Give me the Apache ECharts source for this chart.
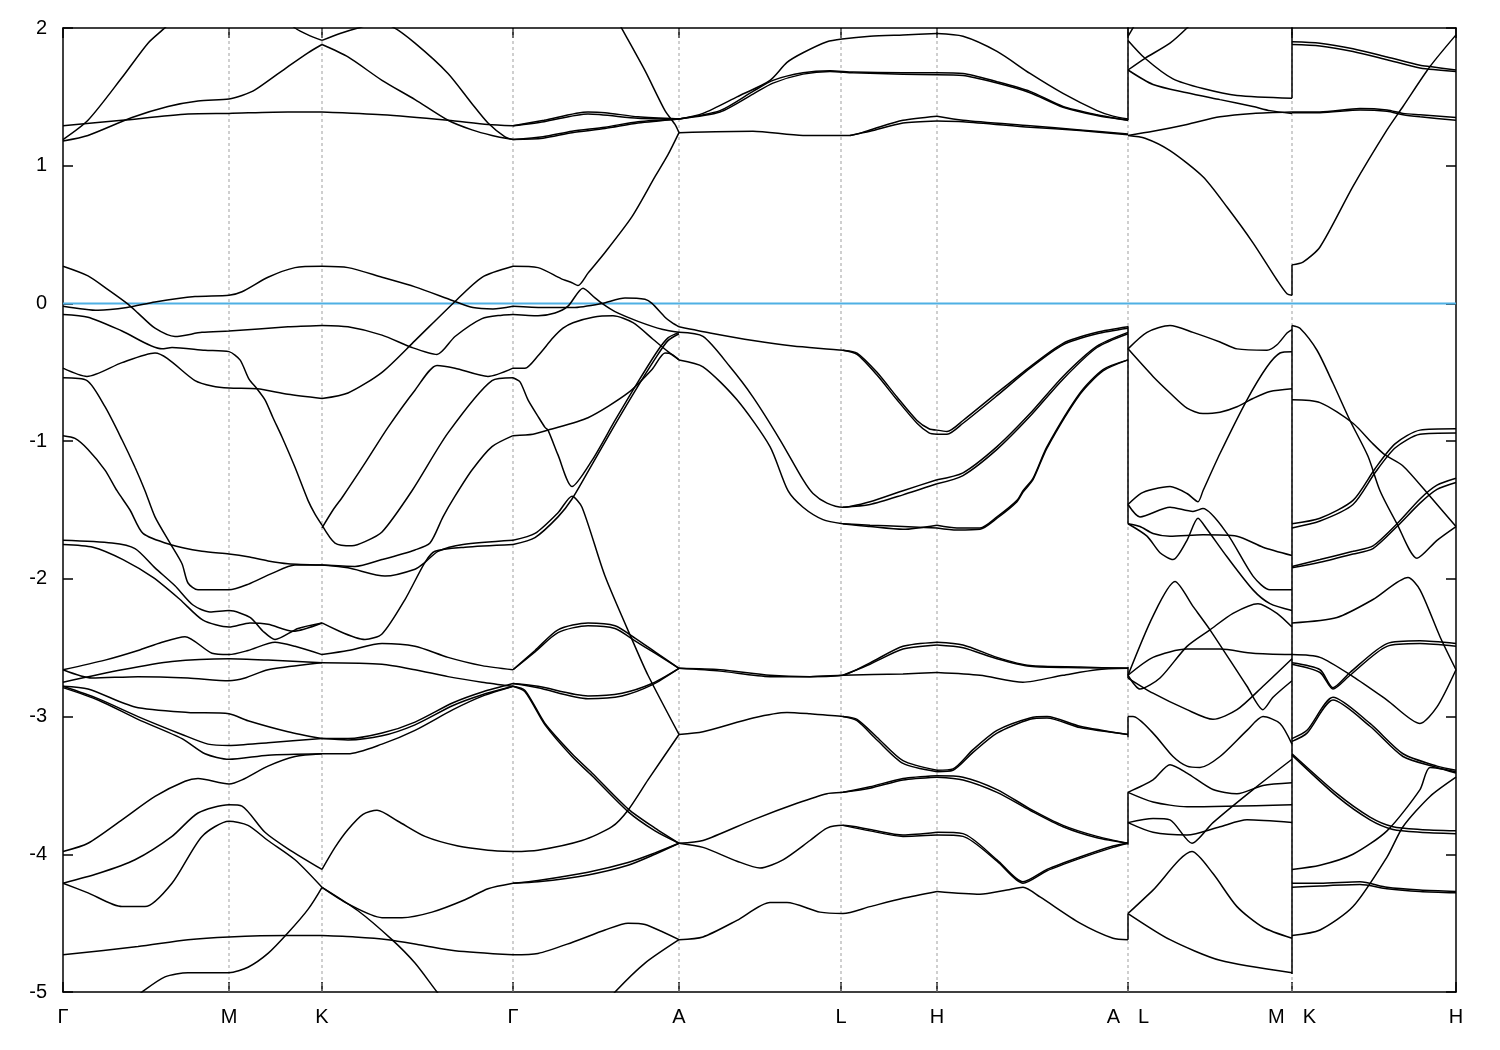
<!DOCTYPE html>
<html><head><meta charset="utf-8">
<script src="https://cdn.jsdelivr.net/npm/echarts@6/dist/echarts.min.js"></script>
<style>html,body{margin:0;padding:0;background:#fff}#chart{width:1500px;height:1050px}</style>
</head><body><div id="chart"></div>
<script>
// k-path positions of the high-symmetry points (path distance units) and their labels
const kPoints = [0, 166, 259, 450, 616, 778, 874, 1065, 1229, 1393];
const kNames  = ['Γ', 'M', 'K', 'Γ', 'A', 'L', 'H', 'A|L', 'M|K', 'H'];
const energyMin = -5, energyMax = 2;

// Band polylines [k, E(eV)], per path segment
const bandsGMK = [
 [[0,1.19],[25,1.33],[59,1.64],[85,1.89],[103,2.01],[106,2.05]],
 [[0,1.29],[59,1.33],[125,1.375],[166,1.38],[225,1.39],[259,1.39]],
 [[0,1.18],[25,1.22],[69,1.35],[105,1.43],[135,1.47],[166,1.485],[179,1.51],[192,1.55],[225,1.72],[245,1.82],[259,1.88]],
 [[225,2.05],[232,2.0],[245,1.95],[259,1.91]],
 [[0,0.27],[25,0.2],[45,0.1],[64,0.0],[75,-0.07],[92,-0.18],[112,-0.24],[139,-0.21],[166,-0.2],[225,-0.17],[259,-0.16]],
 [[0,-0.02],[35,-0.05],[64,-0.03],[92,0.01],[132,0.05],[166,0.06],[179,0.085],[205,0.19],[232,0.26],[259,0.27]],
 [[0,-0.08],[25,-0.1],[59,-0.2],[99,-0.33],[109,-0.32],[142,-0.34],[166,-0.35],[177,-0.41],[186,-0.55],[194,-0.62],[202,-0.7],[210,-0.83],[219,-0.97],[232,-1.19],[245,-1.43],[252,-1.53],[259,-1.61]],
 [[0,-0.47],[24,-0.53],[59,-0.43],[92,-0.36],[132,-0.56],[149,-0.6],[166,-0.615],[194,-0.62],[225,-0.66],[259,-0.69]],
 [[0,-0.54],[24,-0.56],[42,-0.75],[59,-0.99],[72,-1.19],[82,-1.36],[92,-1.55],[107,-1.74],[119,-1.89],[125,-2.03],[135,-2.08],[166,-2.08],[185,-2.04],[209,-1.96],[232,-1.9],[259,-1.9]],
 [[0,-0.96],[12,-0.98],[25,-1.06],[42,-1.21],[54,-1.36],[67,-1.5],[80,-1.67],[107,-1.75],[139,-1.8],[166,-1.82],[185,-1.84],[205,-1.87],[225,-1.89],[259,-1.9]],
 [[0,-1.72],[49,-1.74],[72,-1.78],[92,-1.92],[112,-2.05],[130,-2.19],[147,-2.24],[166,-2.23],[187,-2.28],[200,-2.38],[212,-2.44],[235,-2.36],[259,-2.32]],
 [[0,-1.75],[30,-1.77],[60,-1.86],[90,-1.99],[117,-2.15],[140,-2.3],[166,-2.35],[187,-2.32],[205,-2.33],[230,-2.38],[259,-2.32]],
 [[0,-2.66],[42,-2.59],[75,-2.52],[99,-2.46],[122,-2.42],[149,-2.54],[166,-2.55],[185,-2.52],[212,-2.46],[232,-2.49],[259,-2.55]],
 [[0,-2.75],[59,-2.66],[109,-2.6],[166,-2.58],[205,-2.59],[259,-2.61]],
 [[0,-2.66],[29,-2.72],[75,-2.71],[125,-2.72],[166,-2.74],[182,-2.72],[205,-2.66],[259,-2.61]],
 [[0,-2.78],[25,-2.8],[72,-2.93],[125,-2.97],[166,-2.98],[185,-3.03],[225,-3.11],[259,-3.16]],
 [[0,-2.78],[35,-2.87],[75,-3.0],[119,-3.13],[145,-3.2],[166,-3.21],[205,-3.19],[259,-3.16]],
 [[0,-2.79],[35,-2.88],[75,-3.02],[119,-3.16],[142,-3.27],[166,-3.31],[205,-3.28],[259,-3.27]],
 [[0,-3.98],[25,-3.92],[59,-3.75],[92,-3.58],[122,-3.47],[135,-3.45],[166,-3.49],[179,-3.46],[205,-3.36],[232,-3.29],[259,-3.27]],
 [[0,-4.21],[35,-4.14],[72,-4.04],[109,-3.87],[135,-3.7],[166,-3.64],[179,-3.65],[202,-3.84],[225,-3.96],[259,-4.11]],
 [[0,-4.21],[25,-4.28],[59,-4.38],[82,-4.38],[109,-4.21],[139,-3.87],[166,-3.76],[185,-3.79],[205,-3.9],[232,-4.04],[259,-4.24]],
 [[0,-4.73],[75,-4.67],[125,-4.62],[166,-4.6],[225,-4.59],[259,-4.59]],
 [[70,-5.06],[79,-5.0],[102,-4.89],[125,-4.86],[166,-4.86],[185,-4.82],[205,-4.72],[225,-4.57],[245,-4.4],[259,-4.24]]
];

const bandsKG = [
 [[259,1.39],[319,1.37],[385,1.33],[425,1.3],[450,1.29]],
 [[259,1.88],[285,1.79],[319,1.62],[352,1.48],[385,1.33],[409,1.26],[429,1.22],[450,1.19]],
 [[259,1.91],[277,1.96],[295,2.0],[312,2.03],[329,2.01],[352,1.89],[385,1.67],[409,1.45],[425,1.31],[442,1.21],[450,1.19]],
 [[259,-0.16],[285,-0.17],[319,-0.23],[349,-0.32],[374,-0.37],[392,-0.24],[419,-0.11],[439,-0.085],[450,-0.08]],
 [[259,0.27],[285,0.26],[319,0.19],[352,0.12],[390,0.02],[410,-0.03],[430,-0.04],[450,-0.02]],
 [[259,-0.69],[285,-0.65],[319,-0.5],[352,-0.27],[390,0.0],[419,0.19],[450,0.27]],
 [[259,-1.63],[270,-1.5],[280,-1.4],[302,-1.16],[325,-0.9],[352,-0.63],[374,-0.45],[392,-0.47],[425,-0.53],[450,-0.47]],
 [[259,-1.61],[272,-1.74],[289,-1.76],[302,-1.73],[319,-1.66],[349,-1.36],[385,-0.94],[429,-0.56],[450,-0.54]],
 [[259,-1.9],[292,-1.91],[319,-1.86],[352,-1.79],[367,-1.74],[380,-1.55],[392,-1.4],[409,-1.21],[429,-1.04],[450,-0.96]],
 [[259,-1.9],[285,-1.92],[322,-1.98],[352,-1.93],[362,-1.88],[375,-1.8],[400,-1.75],[450,-1.72]],
 [[259,-2.32],[302,-2.44],[319,-2.4],[342,-2.15],[362,-1.88],[372,-1.8],[402,-1.77],[450,-1.75]],
 [[259,-2.55],[285,-2.52],[319,-2.47],[352,-2.49],[385,-2.57],[419,-2.63],[450,-2.66]],
 [[259,-2.61],[319,-2.62],[352,-2.66],[385,-2.71],[419,-2.75],[450,-2.78]],
 [[259,-3.16],[285,-3.16],[319,-3.12],[352,-3.04],[390,-2.9],[420,-2.82],[450,-2.76]],
 [[259,-3.16],[285,-3.17],[319,-3.14],[352,-3.06],[390,-2.92],[420,-2.84],[450,-2.78]],
 [[259,-3.27],[285,-3.27],[319,-3.2],[352,-3.1],[390,-2.95],[420,-2.85],[450,-2.78]],
 [[259,-4.11],[272,-3.95],[285,-3.82],[300,-3.71],[314,-3.68],[335,-3.76],[362,-3.87],[395,-3.94],[425,-3.97],[450,-3.98]],
 [[259,-4.24],[285,-4.36],[319,-4.46],[339,-4.46],[369,-4.42],[402,-4.33],[425,-4.25],[450,-4.21]],
 [[259,-4.24],[295,-4.41],[329,-4.62],[352,-4.79],[374,-5.0],[380,-5.05]],
 [[259,-4.59],[292,-4.6],[325,-4.62],[359,-4.66],[392,-4.7],[450,-4.73]]
];

const bandsGA = [
 [[555,2.05],[557,2.02],[582,1.69],[602,1.4],[612,1.3],[616,1.24]],
 [[450,1.29],[481,1.33],[525,1.39],[542,1.385],[575,1.355],[616,1.34]],
 [[450,1.29],[481,1.32],[525,1.375],[575,1.345],[616,1.34]],
 [[450,1.19],[480,1.2],[509,1.24],[542,1.27],[575,1.31],[616,1.34]],
 [[450,1.19],[480,1.21],[509,1.25],[542,1.28],[575,1.32],[616,1.34]],
 [[450,0.27],[475,0.26],[498,0.18],[509,0.15],[515,0.13],[525,0.22],[542,0.37],[569,0.63],[592,0.92],[605,1.08],[616,1.24]],
 [[450,-0.02],[480,-0.03],[510,-0.03],[539,0.0],[562,0.04],[582,0.03],[589,0.0],[602,-0.1],[609,-0.14],[616,-0.17]],
 [[450,-0.08],[475,-0.09],[492,-0.07],[505,-0.02],[520,0.11],[532,0.04],[539,0.0],[552,-0.06],[575,-0.13],[600,-0.19],[616,-0.21]],
 [[450,-0.47],[462,-0.47],[475,-0.38],[490,-0.25],[500,-0.18],[510,-0.14],[530,-0.1],[550,-0.09],[570,-0.14],[590,-0.26],[605,-0.35],[616,-0.41]],
 [[450,-0.54],[457,-0.57],[465,-0.7],[475,-0.82],[482,-0.9],[485,-0.92],[495,-1.1],[509,-1.33],[529,-1.14],[552,-0.85],[575,-0.57],[595,-0.34],[605,-0.25],[616,-0.21]],
 [[450,-0.96],[470,-0.95],[485,-0.92],[525,-0.83],[565,-0.65],[589,-0.48],[602,-0.36],[609,-0.37],[616,-0.41]],
 [[450,-1.72],[472,-1.67],[495,-1.52],[509,-1.4],[519,-1.48],[542,-1.98],[572,-2.49],[585,-2.7],[616,-3.13]],
 [[450,-1.75],[472,-1.7],[495,-1.55],[509,-1.42],[529,-1.17],[552,-0.88],[575,-0.6],[595,-0.37],[605,-0.27],[616,-0.22]],
 [[450,-2.66],[472,-2.52],[495,-2.37],[525,-2.32],[552,-2.34],[572,-2.43],[592,-2.53],[616,-2.65]],
 [[450,-2.66],[472,-2.53],[495,-2.39],[525,-2.34],[552,-2.36],[572,-2.45],[592,-2.54],[616,-2.65]],
 [[450,-2.76],[475,-2.78],[525,-2.85],[559,-2.83],[589,-2.76],[616,-2.65]],
 [[450,-2.76],[475,-2.79],[525,-2.87],[559,-2.85],[589,-2.77],[616,-2.65]],
 [[450,-2.78],[462,-2.81],[482,-3.05],[509,-3.27],[529,-3.41],[565,-3.67],[592,-3.81],[616,-3.92]],
 [[450,-2.78],[462,-2.82],[482,-3.06],[509,-3.29],[529,-3.43],[565,-3.69],[592,-3.83],[616,-3.92]],
 [[450,-3.98],[475,-3.97],[519,-3.9],[549,-3.8],[565,-3.68],[585,-3.46],[616,-3.13]],
 [[450,-4.21],[475,-4.19],[525,-4.13],[565,-4.06],[592,-3.99],[616,-3.92]],
 [[450,-4.21],[475,-4.2],[525,-4.15],[565,-4.08],[592,-4.0],[616,-3.92]],
 [[450,-4.73],[475,-4.72],[509,-4.64],[542,-4.55],[565,-4.5],[582,-4.51],[616,-4.62]],
 [[548,-5.05],[552,-5.0],[582,-4.79],[616,-4.62]]
];

const bandsALH = [
 [[616,1.34],[640,1.38],[674,1.5],[707,1.62],[724,1.75],[740,1.82],[764,1.9],[779,1.92],[807,1.94],[840,1.95],[874,1.96]],
 [[616,1.34],[657,1.4],[690,1.54],[710,1.62],[740,1.675],[767,1.69],[790,1.68],[840,1.675],[874,1.675]],
 [[616,1.34],[657,1.39],[690,1.52],[710,1.6],[740,1.665],[767,1.685],[790,1.675],[840,1.665],[874,1.66]],
 [[616,1.24],[690,1.25],[740,1.22],[787,1.22],[807,1.26],[840,1.33],[874,1.36]],
 [[787,1.22],[807,1.25],[840,1.31],[874,1.325]],
 [[616,-0.17],[647,-0.215],[690,-0.27],[730,-0.31],[780,-0.34],[794,-0.36],[814,-0.5],[834,-0.68],[854,-0.85],[866,-0.91],[874,-0.92]],
 [[780,-0.34],[794,-0.37],[814,-0.52],[834,-0.7],[854,-0.87],[866,-0.94],[874,-0.95]],
 [[616,-0.21],[640,-0.24],[667,-0.46],[690,-0.68],[717,-0.99],[740,-1.28],[750,-1.38],[764,-1.45],[780,-1.48],[807,-1.44],[840,-1.36],[874,-1.28]],
 [[780,-1.48],[807,-1.46],[840,-1.39],[874,-1.31]],
 [[616,-0.41],[640,-0.46],[674,-0.7],[707,-1.04],[725,-1.36],[740,-1.48],[760,-1.57],[780,-1.6],[807,-1.62],[840,-1.64],[874,-1.61]],
 [[780,-1.6],[807,-1.61],[840,-1.62],[874,-1.63]],
 [[616,-2.65],[657,-2.66],[707,-2.7],[747,-2.71],[780,-2.7],[807,-2.61],[840,-2.49],[874,-2.46]],
 [[780,-2.7],[807,-2.62],[840,-2.51],[874,-2.48]],
 [[616,-2.65],[657,-2.67],[707,-2.71],[747,-2.71],[780,-2.7],[840,-2.69],[874,-2.68]],
 [[616,-3.13],[640,-3.11],[690,-3.01],[724,-2.97],[747,-2.98],[780,-3.0],[794,-3.02],[814,-3.15],[840,-3.32],[874,-3.39]],
 [[780,-3.0],[794,-3.03],[814,-3.17],[840,-3.34],[874,-3.4]],
 [[616,-3.92],[640,-3.9],[690,-3.75],[734,-3.63],[764,-3.56],[780,-3.55],[807,-3.51],[840,-3.45],[874,-3.43]],
 [[780,-3.55],[807,-3.52],[840,-3.46],[874,-3.44]],
 [[616,-3.92],[640,-3.95],[674,-4.05],[697,-4.1],[720,-4.04],[747,-3.9],[764,-3.81],[780,-3.79],[807,-3.82],[840,-3.86],[874,-3.84]],
 [[780,-3.79],[807,-3.83],[840,-3.87],[874,-3.86]],
 [[616,-4.62],[640,-4.6],[674,-4.48],[707,-4.35],[724,-4.35],[757,-4.42],[780,-4.43],[807,-4.38],[840,-4.32],[874,-4.27]]
];

const bandsHA = [
 [[874,1.96],[900,1.94],[934,1.83],[967,1.67],[1000,1.525],[1034,1.4],[1050,1.36],[1065,1.34]],
 [[874,1.675],[900,1.67],[934,1.61],[967,1.54],[1000,1.43],[1034,1.37],[1065,1.33]],
 [[874,1.66],[900,1.655],[934,1.6],[967,1.53],[1000,1.425],[1034,1.365],[1065,1.33]],
 [[874,1.36],[900,1.33],[967,1.29],[1017,1.26],[1065,1.23]],
 [[874,1.325],[900,1.32],[967,1.28],[1017,1.255],[1065,1.225]],
 [[874,-0.92],[884,-0.93],[900,-0.85],[934,-0.65],[967,-0.46],[1000,-0.29],[1034,-0.21],[1065,-0.17]],
 [[874,-0.95],[884,-0.95],[900,-0.87],[934,-0.67],[967,-0.47],[1000,-0.3],[1034,-0.22],[1065,-0.18]],
 [[874,-1.28],[900,-1.23],[934,-1.04],[967,-0.8],[1000,-0.53],[1034,-0.31],[1065,-0.21]],
 [[874,-1.31],[900,-1.25],[934,-1.06],[967,-0.82],[1000,-0.55],[1034,-0.32],[1065,-0.22]],
 [[874,-1.61],[894,-1.63],[917,-1.63],[934,-1.55],[954,-1.43],[960,-1.36],[970,-1.27],[984,-1.04],[1017,-0.65],[1040,-0.48],[1065,-0.41]],
 [[874,-1.63],[894,-1.645],[917,-1.64],[934,-1.56],[954,-1.44],[960,-1.37],[970,-1.28],[984,-1.05],[1017,-0.66],[1040,-0.49],[1065,-0.41]],
 [[874,-2.46],[900,-2.48],[934,-2.57],[967,-2.63],[1017,-2.64],[1065,-2.65]],
 [[874,-2.48],[900,-2.5],[934,-2.58],[967,-2.635],[1017,-2.645],[1065,-2.65]],
 [[874,-2.68],[917,-2.7],[960,-2.75],[1000,-2.7],[1034,-2.66],[1065,-2.65]],
 [[874,-3.39],[890,-3.38],[910,-3.24],[934,-3.1],[967,-3.01],[984,-3.0],[1017,-3.07],[1065,-3.13]],
 [[874,-3.4],[890,-3.39],[910,-3.26],[934,-3.12],[967,-3.02],[984,-3.01],[1017,-3.08],[1065,-3.13]],
 [[874,-3.43],[900,-3.44],[934,-3.53],[967,-3.67],[1000,-3.79],[1034,-3.87],[1065,-3.92]],
 [[874,-3.44],[900,-3.46],[934,-3.55],[967,-3.68],[1000,-3.8],[1034,-3.88],[1065,-3.92]],
 [[874,-3.84],[900,-3.85],[934,-4.04],[960,-4.2],[984,-4.11],[1017,-4.02],[1050,-3.94],[1065,-3.92]],
 [[874,-3.86],[900,-3.87],[934,-4.05],[960,-4.21],[984,-4.12],[1017,-4.03],[1050,-3.95],[1065,-3.92]],
 [[874,-4.27],[917,-4.29],[944,-4.26],[960,-4.24],[977,-4.31],[1017,-4.5],[1050,-4.61],[1065,-4.62]]
];

const bandsLM = [
 [[1065,1.94],[1074,2.05]],
 [[1065,1.91],[1082,1.78],[1110,1.63],[1140,1.56],[1174,1.51],[1229,1.49]],
 [[1065,1.695],[1082,1.78],[1107,1.89],[1124,2.0],[1130,2.05]],
 [[1065,1.695],[1090,1.59],[1124,1.53],[1157,1.48],[1190,1.43],[1207,1.4],[1229,1.38]],
 [[1065,1.22],[1090,1.25],[1124,1.3],[1157,1.355],[1190,1.38],[1229,1.39]],
 [[1065,1.22],[1082,1.2],[1107,1.11],[1140,0.92],[1164,0.7],[1190,0.44],[1214,0.17],[1224,0.07],[1229,0.06]],
 [[1065,-0.33],[1084,-0.21],[1107,-0.16],[1130,-0.21],[1157,-0.28],[1174,-0.33],[1204,-0.34],[1214,-0.3],[1224,-0.215],[1229,-0.19]],
 [[1065,-0.33],[1090,-0.53],[1107,-0.65],[1124,-0.76],[1140,-0.8],[1157,-0.79],[1174,-0.75],[1190,-0.69],[1207,-0.64],[1229,-0.62]],
 [[1065,-1.46],[1078,-1.38],[1090,-1.35],[1107,-1.33],[1124,-1.38],[1135,-1.44],[1140,-1.36],[1157,-1.09],[1184,-0.7],[1204,-0.46],[1217,-0.36],[1229,-0.35]],
 [[1065,-1.46],[1077,-1.55],[1107,-1.48],[1130,-1.51],[1140,-1.49],[1164,-1.67],[1190,-1.98],[1207,-2.08],[1229,-2.08]],
 [[1065,-1.6],[1077,-1.62],[1090,-1.67],[1107,-1.69],[1140,-1.68],[1174,-1.69],[1200,-1.77],[1229,-1.83]],
 [[1065,-1.6],[1084,-1.69],[1097,-1.81],[1110,-1.86],[1124,-1.72],[1135,-1.56],[1144,-1.64],[1164,-1.84],[1190,-2.08],[1207,-2.18],[1229,-2.23]],
 [[1065,-2.7],[1077,-2.8],[1097,-2.72],[1124,-2.49],[1147,-2.37],[1170,-2.25],[1195,-2.18],[1214,-2.25],[1229,-2.35]],
 [[1065,-2.7],[1090,-2.27],[1112,-2.02],[1130,-2.2],[1147,-2.37],[1184,-2.78],[1200,-2.95],[1210,-2.86],[1229,-2.74]],
 [[1065,-2.7],[1090,-2.57],[1124,-2.51],[1157,-2.51],[1190,-2.54],[1229,-2.55]],
 [[1065,-2.72],[1090,-2.83],[1124,-2.95],[1150,-3.02],[1174,-2.95],[1200,-2.78],[1229,-2.58]],
 [[1065,-3.0],[1070,-3.0],[1090,-3.12],[1110,-3.29],[1124,-3.36],[1137,-3.37],[1157,-3.29],[1184,-3.1],[1200,-3.0],[1217,-3.05],[1229,-3.2]],
 [[1065,-3.55],[1090,-3.62],[1124,-3.655],[1229,-3.64]],
 [[1065,-3.55],[1090,-3.46],[1107,-3.35],[1124,-3.41],[1150,-3.53],[1174,-3.56],[1200,-3.5],[1229,-3.48]],
 [[1065,-3.77],[1090,-3.74],[1107,-3.75],[1129,-3.92],[1150,-3.77],[1190,-3.53],[1229,-3.31]],
 [[1065,-3.77],[1090,-3.84],[1124,-3.86],[1157,-3.8],[1184,-3.75],[1229,-3.77]],
 [[1065,-4.43],[1090,-4.26],[1129,-3.98],[1150,-4.14],[1174,-4.38],[1200,-4.53],[1229,-4.61]],
 [[1065,-4.43],[1107,-4.62],[1157,-4.77],[1229,-4.86]]
];

const bandsKH = [
 [[1229,1.9],[1257,1.89],[1290,1.85],[1324,1.79],[1357,1.73],[1367,1.72],[1393,1.695]],
 [[1229,1.88],[1257,1.87],[1290,1.83],[1324,1.77],[1357,1.71],[1393,1.685]],
 [[1229,1.39],[1257,1.39],[1297,1.415],[1324,1.405],[1340,1.38],[1357,1.37],[1393,1.35]],
 [[1229,1.385],[1257,1.385],[1297,1.405],[1324,1.395],[1340,1.37],[1357,1.355],[1393,1.33]],
 [[1229,0.28],[1240,0.3],[1257,0.41],[1290,0.85],[1324,1.26],[1340,1.43],[1367,1.72],[1393,1.95]],
 [[1229,-0.16],[1237,-0.18],[1254,-0.34],[1270,-0.58],[1287,-0.85],[1305,-1.11],[1317,-1.36],[1334,-1.6],[1354,-1.85],[1374,-1.72],[1393,-1.62]],
 [[1229,-1.6],[1257,-1.56],[1290,-1.43],[1312,-1.2],[1332,-1.02],[1357,-0.92],[1393,-0.91]],
 [[1229,-1.63],[1257,-1.58],[1290,-1.46],[1312,-1.23],[1332,-1.05],[1357,-0.95],[1393,-0.94]],
 [[1229,-0.7],[1257,-0.72],[1290,-0.87],[1310,-1.02],[1322,-1.1],[1340,-1.18],[1367,-1.4],[1393,-1.62]],
 [[1229,-1.91],[1257,-1.86],[1290,-1.8],[1310,-1.76],[1334,-1.6],[1357,-1.42],[1374,-1.32],[1393,-1.27]],
 [[1229,-1.92],[1257,-1.88],[1290,-1.82],[1310,-1.78],[1334,-1.62],[1357,-1.45],[1374,-1.35],[1393,-1.3]],
 [[1229,-2.32],[1274,-2.28],[1310,-2.15],[1345,-1.99],[1357,-2.08],[1377,-2.42],[1393,-2.66]],
 [[1229,-2.61],[1257,-2.66],[1270,-2.79],[1287,-2.68],[1324,-2.47],[1357,-2.45],[1393,-2.47]],
 [[1229,-2.62],[1257,-2.68],[1270,-2.8],[1287,-2.7],[1324,-2.49],[1357,-2.47],[1393,-2.49]],
 [[1229,-2.55],[1257,-2.57],[1290,-2.71],[1324,-2.88],[1357,-3.05],[1374,-2.93],[1393,-2.66]],
 [[1229,-3.16],[1244,-3.1],[1270,-2.86],[1307,-3.05],[1340,-3.27],[1374,-3.36],[1393,-3.39]],
 [[1229,-3.18],[1244,-3.12],[1270,-2.88],[1307,-3.07],[1340,-3.29],[1374,-3.37],[1393,-3.41]],
 [[1229,-3.27],[1274,-3.56],[1307,-3.73],[1330,-3.8],[1357,-3.82],[1393,-3.83]],
 [[1229,-3.28],[1274,-3.58],[1307,-3.75],[1330,-3.82],[1357,-3.84],[1393,-3.85]],
 [[1229,-4.11],[1257,-4.08],[1290,-4.0],[1324,-3.83],[1357,-3.53],[1367,-3.37],[1393,-3.4]],
 [[1229,-4.59],[1257,-4.55],[1290,-4.38],[1324,-4.02],[1340,-3.8],[1367,-3.58],[1393,-3.44]],
 [[1229,-4.21],[1257,-4.21],[1297,-4.2],[1324,-4.24],[1357,-4.26],[1393,-4.27]],
 [[1229,-4.24],[1257,-4.23],[1297,-4.22],[1324,-4.25],[1357,-4.27],[1393,-4.28]]
];

// vertical joins drawn at the path discontinuities (A|L and M|K)
const breakLinks = [
 [[1065,1.33],[1065,2.05]],
 [[1065,-0.165],[1065,-1.6]],
 [[1065,-2.64],[1065,-2.72]],
 [[1065,-3.0],[1065,-3.15]],
 [[1065,-3.55],[1065,-3.93]],
 [[1065,-4.43],[1065,-4.62]],
 [[1229,1.49],[1229,2.05]],
 [[1229,0.06],[1229,0.28]],
 [[1229,-0.16],[1229,-4.87]]
];

const FONT = '"Liberation Sans", Arial, Helvetica, sans-serif';
const chart = echarts.init(document.getElementById('chart'), null, {renderer: 'canvas'});

const bandLines = [].concat(bandsGMK, bandsKG, bandsGA, bandsALH, bandsHA, bandsLM, bandsKH);
const series = [];

// dashed vertical guides at interior symmetry points
kPoints.slice(1, -1).forEach(k => {
  series.push({type: 'line', data: [[k, energyMin], [k, energyMax]], symbol: 'none', silent: true, z: 1,
    lineStyle: {color: '#a0a0a0', width: 1, type: [3, 3]}});
});
// Fermi level
series.push({type: 'line', data: [[kPoints[0], 0], [kPoints[kPoints.length - 1], 0]], symbol: 'none', silent: true, z: 2,
  lineStyle: {color: '#4fb0e4', width: 2}});

bandLines.forEach(pts => {
  series.push({type: 'line', data: pts, symbol: 'none', smooth: 0.25, silent: true, z: 3, clip: true,
    lineStyle: {color: '#000', width: 1.5}});
});
breakLinks.forEach(pts => {
  series.push({type: 'line', data: pts, symbol: 'none', silent: true, z: 3, clip: true,
    lineStyle: {color: '#000', width: 1.5}});
});

const labelMap = {};
kPoints.forEach((k, i) => { labelMap[k] = kNames[i]; });

const axisLineStyle = {show: true, onZero: false, lineStyle: {color: '#000', width: 1.5}};
const tickStyle = {color: '#000', width: 1.5};

chart.setOption({
  animation: false,
  backgroundColor: '#fff',
  grid: {left: 63, right: 44, top: 28, bottom: 58, containLabel: false},
  xAxis: [
    {
      type: 'value', position: 'bottom', min: kPoints[0], max: kPoints[kPoints.length - 1],
      axisLine: axisLineStyle, splitLine: {show: false},
      axisTick: {show: true, inside: true, length: 10, customValues: kPoints, lineStyle: tickStyle},
      axisLabel: {
        show: true, customValues: kPoints, margin: 15, color: '#000', fontSize: 20, fontFamily: FONT,
        formatter: v => {
          const n = labelMap[v];
          if (n && n.indexOf('|') > 0) {
            const p = n.split('|');
            return '{a|' + p[0] + '}{g| }{b|' + p[1] + '}';
          }
          return n || '';
        },
        rich: {
          a: {fontSize: 20, fontFamily: FONT, color: '#000'},
          g: {width: 18, fontSize: 20},
          b: {fontSize: 20, fontFamily: FONT, color: '#000'}
        }
      }
    },
    {
      type: 'value', position: 'top', min: kPoints[0], max: kPoints[kPoints.length - 1],
      axisLine: axisLineStyle, splitLine: {show: false},
      axisTick: {show: true, inside: true, length: 10, customValues: kPoints, lineStyle: tickStyle},
      axisLabel: {show: false}
    }
  ],
  yAxis: [
    {
      type: 'value', position: 'left', min: energyMin, max: energyMax, interval: 1,
      axisLine: axisLineStyle, splitLine: {show: false},
      axisTick: {show: true, inside: true, length: 10, lineStyle: tickStyle},
      axisLabel: {show: true, margin: 16, color: '#000', fontSize: 20, fontFamily: FONT}
    },
    {
      type: 'value', position: 'right', min: energyMin, max: energyMax, interval: 1,
      axisLine: axisLineStyle, splitLine: {show: false},
      axisTick: {show: true, inside: true, length: 10, lineStyle: tickStyle},
      axisLabel: {show: false}
    }
  ],
  series: series
});
</script>
</body></html>
